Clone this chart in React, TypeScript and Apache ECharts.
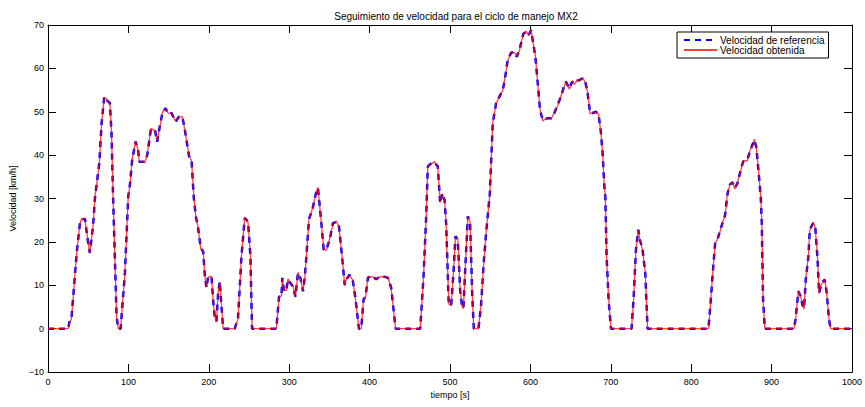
import React, { useEffect, useRef } from "react";
import * as echarts from "echarts";

const tiempo = [
  0, 25, 27, 29, 31.4, 33.5, 36, 39.8, 41.8, 46, 49, 52, 56, 58.4, 63.8, 66.7, 70, 73, 77, 79, 81, 85.3, 87.4, 90.3, 95.7, 99.8,
  101.9, 104.7, 108.9, 112.2, 113.4, 120.5, 123.4, 128, 133, 135.8, 139, 142.4, 146.2, 149.5, 153.6, 158.6, 163.1, 167.3, 170.2,
  175.5, 178.5, 181.4, 183.9, 186.7, 190, 193, 195, 197.1, 199.2, 203.4, 205.3, 207.5, 209.5, 211.6, 213.7, 214.9, 217.8, 232.3,
  236.4, 240.6, 244.7, 248.8, 251.8, 253.8, 284, 287.4, 290.3, 291.5, 293.6, 296.5, 298.5, 301.5, 304.7, 307.7, 310.9, 313.9,
  317.2, 319.3, 321.4, 324.6, 328.8, 333.8, 335.8, 340, 342.9, 346.2, 350.3, 354.4, 358.6, 361.9, 366.1, 369, 371, 375.2, 379.3,
  382.6, 386.7, 389.6, 392.5, 395, 397.9, 402, 408.3, 414.5, 422.8, 426.9, 432.3, 463, 467, 470.4, 472.4, 476.6, 480.7, 484.8,
  487.8, 490.3, 493.2, 495.2, 498.5, 501.5, 504.3, 506.8, 509.7, 512.6, 515.2, 516.7, 519.3, 522.2, 525, 527.6, 529.6, 535.4,
  538.7, 541.6, 544.9, 549.5, 553.2, 557.4, 561.5, 565.6, 567.7, 571.8, 576, 580.1, 583, 586.3, 588.4, 591.3, 594.6, 597.9,
  600.9, 602.9, 606.2, 609.1, 612, 615.3, 621.5, 625.7, 629.8, 633.9, 638.1, 641.4, 644.3, 648.4, 651.8, 654.7, 658.8, 660.9,
  665, 668.3, 671.2, 674.2, 677.4, 681.6, 684.8, 687.8, 689.8, 692, 693.2, 694.8, 697.3, 700.2, 725.8, 728.3, 731.3, 734.2,
  736.2, 739.5, 742.9, 745.7, 821.5, 824.4, 826.5, 829.8, 832.7, 835.6, 838.9, 842.2, 845.1, 848, 851.3, 854.3, 857.5, 861.7,
  864.6, 869.9, 872.9, 876.2, 878.7, 881.2, 883.6, 886.6, 887.8, 889.4, 891.6, 928, 930, 933.3, 936.3, 938.3, 940.4, 942.5,
  945.8, 947.5, 951.6, 954.2, 957, 959.1, 961.2, 964, 966.1, 968.6, 971.4, 973.5, 1000,
];

const velReferencia = [
  0, 0, 1.8, 2, 7.4, 12.4, 18, 24.4, 25.2, 25.3, 21, 17.5, 23.5, 30.1, 38.1, 47.4, 53.5, 52.7, 52, 45, 30, 2.8, 0, 0, 12.9, 30.5,
  33.2, 38.9, 43.1, 41.2, 38.5, 38.5, 40, 46, 45.8, 43.1, 46.6, 49.8, 50.8, 49.5, 49.7, 47.7, 48.9, 48.7, 45.8,
  39.7, 38.9, 30.1, 25.9, 23.2, 18.6, 17.8, 12.4, 9.4, 12, 11.9, 6.7, 2.5, 1.7, 8.2, 10.9, 7.4, 0, 0,
  2.5, 16.6, 25.5, 24.7, 16.6, 0, 0, 7.4, 7.4, 11.7, 8.6, 9, 11.3, 10.5, 9.7, 7.4, 12.8, 11.7,
  8.6, 11.7, 16.6, 25.3, 27.4, 31.6, 32.4, 24.3, 18.2, 18.2, 20.5, 24.3, 24.6, 23.6, 15.9, 10.1, 11.3, 12.4, 10.9,
  6.7, 0, 0, 6.7, 7.4, 11.7, 12.2, 11.4, 12.2, 11.7, 9.4, 0, 0, 11.7, 25.9, 37.4, 38.1, 38.3, 37.4,
  28.9, 31.2, 29.7, 24.3, 5.5, 5.5, 12.8, 21.3, 20.5, 9, 4.8, 4.8, 15.1, 25.9, 24.3, 8.2, 0, 0,
  5.5, 14.3, 22, 31, 47.4, 52, 53.5, 55, 56.9, 61.9, 63.6, 63.8, 62.7, 64.2, 65.8, 68, 68.4, 67.7,
  68.8, 66.5, 62.7, 56.6, 50.4, 48.1, 48.5, 48.5, 49.7, 51.6, 53.5, 55.6, 56.9, 55.4, 56.9, 56.5, 57.2, 57.3,
  57.7, 56.9, 54.3, 49.7, 49.7, 50, 49.3, 45.1, 40.4, 32.8, 30.5, 16.6, 6.7, 0, 0, 6.7, 18.2, 22.8,
  20.5, 18.2, 12.8, 0, 0, 6.7, 12, 19.7, 20.5, 22.4, 24.3, 26.2, 31, 33.2, 33.7, 32.4, 33.5, 36.6,
  38.5, 38.9, 40.8, 42.4, 43.5, 41.6, 36.6, 30.1, 24.3, 6.7, 0, 0, 2.5, 8.6, 7.4, 5.5, 4.7, 11.3,
  16.6, 22.8, 24.3, 23.6, 16.6, 8.2, 9.7, 10.9, 11.3, 8.2, 2.1, 0, 0,
];

const velObtenida = [
  0, 0, 1.6, 2.1, 7.2, 12.6, 18.1, 24.2, 25.4, 25.1, 21.2, 17.3, 23.6, 30.3, 38, 47.6, 53.3, 52.9, 51.8, 45.2, 30.2, 2.6, 0, 0.1, 12.7, 30.6,
  33, 39.1, 43.3, 41, 38.6, 38.3, 40.2, 46.2, 45.6, 43.3, 46.4, 50, 50.6, 49.7, 49.5, 47.9, 48.7, 48.9, 45.6,
  39.9, 38.7, 30.3, 25.7, 23.4, 18.4, 18, 12.2, 9.6, 11.8, 12.1, 6.5, 2.7, 1.5, 8.4, 10.7, 7.6, 0, 0,
  2.3, 16.8, 25.7, 24.5, 16.8, 0, 0, 7.2, 7.6, 11.5, 8.8, 8.8, 11.5, 10.3, 9.9, 7.2, 13, 11.5,
  8.8, 11.5, 16.8, 25.1, 27.6, 31.4, 32.6, 24.1, 18.4, 18, 20.7, 24.1, 24.8, 23.4, 16.1, 9.9, 11.5, 12.2, 11.1,
  6.5, 0, 0, 6.9, 7.2, 11.9, 12, 11.6, 12, 11.9, 9.2, 0, 0, 11.5, 26.1, 37.6, 37.9, 38.5, 37.2,
  29.1, 31, 29.9, 24.1, 5.7, 5.3, 13, 21.1, 20.7, 8.8, 5, 4.6, 15.3, 25.7, 24.5, 8, 0, 0,
  5.7, 14.1, 22.2, 30.8, 47.6, 51.8, 53.7, 54.8, 57.1, 61.7, 63.8, 63.6, 62.9, 64, 66, 67.8, 68.6, 67.5,
  69, 66.3, 62.9, 56.4, 50.6, 47.9, 48.7, 48.3, 49.9, 51.4, 53.7, 55.4, 57.1, 55.2, 57.1, 56.3, 57.4, 57.1,
  57.9, 56.7, 54.5, 49.5, 49.9, 49.8, 49.5, 44.9, 40.6, 32.6, 30.7, 16.4, 6.9, 0, 0, 6.5, 18.4, 22.6,
  20.7, 18, 13, 0, 0, 6.5, 12.2, 19.5, 20.7, 22.2, 24.5, 26, 31.2, 33, 33.9, 32.2, 33.7, 36.4,
  38.7, 38.7, 41, 42.2, 43.7, 41.4, 36.8, 29.9, 24.5, 6.5, 0, 0, 2.3, 8.8, 7.2, 5.7, 4.5, 11.5,
  16.8, 22.6, 24.5, 23.4, 16.8, 8, 9.9, 10.7, 11.5, 8, 2.3, 0, 0,
];

const titulo = "Seguimiento de velocidad para el ciclo de manejo MX2";
const nombreRef = "Velocidad de referencia";
const nombreObt = "Velocidad obtenida";

const FONT = "'Liberation Sans', Arial, Helvetica, sans-serif";
const fmt = (v: number) => String(v).replace("-", "\u2212");

export default function App() {
  const ref = useRef<HTMLDivElement>(null);
  useEffect(() => {
    if (!ref.current) return;
    const chart = echarts.init(ref.current, null, { renderer: "svg" });
    const axisCommon = {
      type: "value" as const,
      axisLine: { show: true, onZero: false, lineStyle: { color: "#000", width: 1 } },
      axisTick: { show: true, inside: true, length: 8, lineStyle: { color: "#000", width: 1 } },
      splitLine: { show: false },
    };
    chart.setOption({
      animation: false,
      backgroundColor: "#fff",
      textStyle: { fontFamily: FONT },
      title: {
        text: titulo,
        left: 451,
        top: 6,
        textAlign: "center",
        textStyle: { fontFamily: FONT, fontSize: 10, fontWeight: "normal", color: "#000" },
      },
      legend: {
        orient: "vertical",
        left: 677,
        top: 32,
        padding: [3, 4, 3, 6],
        itemGap: 0,
        itemWidth: 33,
        itemHeight: 12,
        backgroundColor: "#fff",
        borderColor: "#000",
        borderWidth: 1,
        borderRadius: 0,
        itemStyle: { opacity: 0 },
        textStyle: { fontFamily: FONT, fontSize: 10, color: "#000", padding: [0, 0, 0, -2] },
        data: [nombreRef, nombreObt],
      },
      grid: { left: 48, right: 12, top: 25, bottom: 35, containLabel: false },
      xAxis: [
        {
          ...axisCommon,
          position: "bottom",
          min: 0,
          max: 1000,
          interval: 100,
          name: "tiempo [s]",
          nameLocation: "middle",
          nameGap: 17,
          nameTextStyle: { fontFamily: FONT, fontSize: 9, color: "#000" },
          axisLabel: { margin: 5, fontFamily: FONT, fontSize: 9, color: "#000", formatter: fmt },
        },
        {
          ...axisCommon,
          position: "top",
          min: 0,
          max: 1000,
          interval: 100,
          axisLabel: { show: false },
        },
      ],
      yAxis: [
        {
          ...axisCommon,
          position: "left",
          min: -10,
          max: 70,
          interval: 10,
          name: "Velocidad [km/h]",
          nameLocation: "middle",
          nameGap: 29,
          nameTextStyle: { fontFamily: FONT, fontSize: 9, color: "#000" },
          axisLabel: { margin: 4, fontFamily: FONT, fontSize: 9, color: "#000", formatter: fmt },
        },
        {
          ...axisCommon,
          position: "right",
          min: -10,
          max: 70,
          interval: 10,
          axisLabel: { show: false },
        },
      ],
      series: [
        {
          name: nombreRef,
          type: "line",
          xAxisIndex: 0,
          yAxisIndex: 0,
          symbol: "none",
          showSymbol: false,
          color: "#0000ff",
          lineStyle: { color: "#0000ff", width: 2.5, type: [6, 5] },
          data: tiempo.map((t, i) => [t, velReferencia[i]]),
          z: 2,
        },
        {
          name: nombreObt,
          type: "line",
          xAxisIndex: 0,
          yAxisIndex: 0,
          symbol: "none",
          showSymbol: false,
          color: "#ff0000",
          lineStyle: { color: "#ff0000", width: 1.3, opacity: 0.75 },
          data: tiempo.map((t, i) => [t, velObtenida[i]]),
          z: 3,
        },
      ],
    });
    return () => chart.dispose();
  }, []);
  return (
    <div
      ref={ref}
      style={{ position: "absolute", left: 0, top: 0, width: 865, height: 407, background: "#fff" }}
    />
  );
}
